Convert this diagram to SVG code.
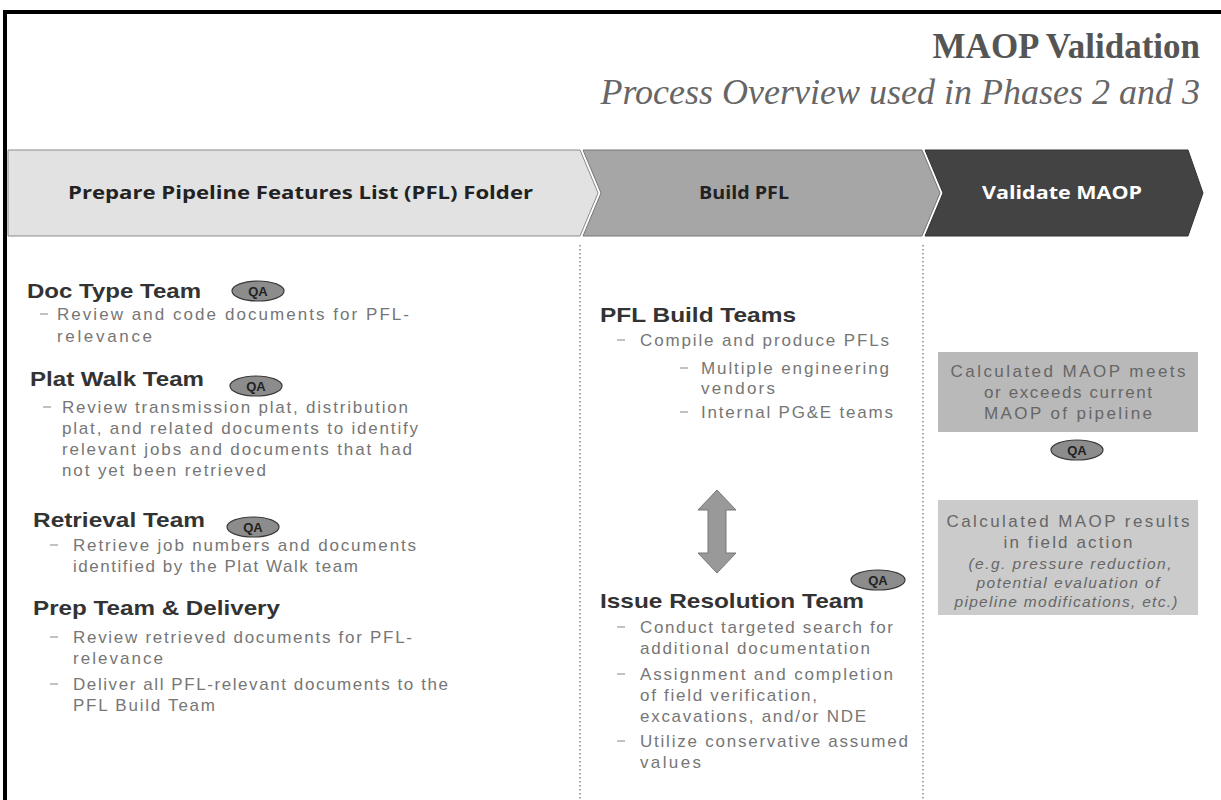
<svg xmlns="http://www.w3.org/2000/svg" width="1221" height="800" viewBox="0 0 1221 800">
<style>
.title{font-family:"Liberation Serif",serif;font-weight:bold;font-size:35px;fill:#555}
.sub{font-family:"Liberation Serif",serif;font-style:italic;font-size:36px;fill:#666}
.chev{font-family:"Open Sans","Liberation Sans",sans-serif;font-weight:bold;font-size:18px}
.h{font-family:"Liberation Sans",Arial,sans-serif;font-weight:bold;font-size:20.5px;fill:#333}
.b{font-family:"Liberation Sans",Arial,sans-serif;font-size:17px;fill:#767676}
.bx{font-family:"Liberation Sans",Arial,sans-serif;font-size:17px;fill:#666}
.bi{font-family:"Liberation Sans",Arial,sans-serif;font-style:italic;font-size:15.5px;fill:#666}
.dash{stroke:#999;stroke-width:1.2}
.qa ellipse{fill:#8c8c8c;stroke:#3a3a3a;stroke-width:1.2}
.qa text{font-family:"Liberation Sans",Arial,sans-serif;font-size:13px;font-weight:bold;fill:#222;text-anchor:middle}
.vsep{stroke:#777;stroke-width:1.3;stroke-dasharray:1.5 2.5}
</style>
<rect x="0" y="0" width="1221" height="800" fill="#fff"/>
<path d="M5 830 V12 H1240" fill="none" stroke="#000" stroke-width="4"/>

<g id="title">
<text class="title" x="1200" y="58" text-anchor="end">MAOP Validation</text>
<text class="sub" x="1200" y="104" text-anchor="end">Process Overview used in Phases 2 and 3</text>
</g>

<g id="phase1">
<polygon points="8,150 580,150 598,193 580,236 8,236" fill="#e2e2e2" stroke="#8a8a8a" stroke-width="1"/>
<text class="chev" x="68" y="199" fill="#222" textLength="465" lengthAdjust="spacingAndGlyphs">Prepare Pipeline  Features List (PFL) Folder</text>
</g>
<g id="phase2">
<polygon points="583,150 922,150 940,193 922,236 583,236 601,193" fill="#a6a6a6" stroke="#777" stroke-width="1"/>
<text class="chev" x="744" y="199" fill="#222" text-anchor="middle" textLength="90" lengthAdjust="spacingAndGlyphs">Build PFL</text>
</g>
<g id="phase3">
<polygon points="925,150 1188,150 1203,193 1188,236 925,236 943,193" fill="#434343" stroke="#333" stroke-width="1"/>
<text class="chev" x="1062" y="199" fill="#fff" text-anchor="middle" textLength="160" lengthAdjust="spacingAndGlyphs">Validate MAOP</text>
</g>

<g id="separators">
<line class="vsep" x1="580" y1="245" x2="580" y2="800"/>
<line class="vsep" x1="923" y1="245" x2="923" y2="800"/>
</g>

<g id="doc-type-team">
<text class="h" x="27" y="298" textLength="174" lengthAdjust="spacingAndGlyphs">Doc Type Team</text>
<g class="qa"><ellipse cx="258" cy="291" rx="26" ry="10"/><text x="258" y="296">QA</text></g>
<line class="dash" x1="40" y1="314" x2="48" y2="314"/>
<text class="b" x="57" y="320" textLength="352" lengthAdjust="spacing">Review and code documents for PFL-</text>
<text class="b" x="57" y="342" textLength="95" lengthAdjust="spacing">relevance</text>
</g>

<g id="plat-walk-team">
<text class="h" x="30" y="386" textLength="174" lengthAdjust="spacingAndGlyphs">Plat Walk Team</text>
<g class="qa"><ellipse cx="256" cy="386" rx="26" ry="10"/><text x="256" y="391">QA</text></g>
<line class="dash" x1="43" y1="407" x2="51" y2="407"/>
<text class="b" x="62" y="413" textLength="346" lengthAdjust="spacing">Review transmission plat, distribution</text>
<text class="b" x="62" y="434" textLength="356" lengthAdjust="spacing">plat, and related documents to identify</text>
<text class="b" x="62" y="455" textLength="350" lengthAdjust="spacing">relevant jobs and documents that had</text>
<text class="b" x="62" y="476" textLength="204" lengthAdjust="spacing">not yet been  retrieved</text>
</g>

<g id="retrieval-team">
<text class="h" x="33" y="527" textLength="172" lengthAdjust="spacingAndGlyphs">Retrieval Team</text>
<g class="qa"><ellipse cx="253" cy="527" rx="26" ry="10"/><text x="253" y="532">QA</text></g>
<line class="dash" x1="50" y1="545" x2="58" y2="545"/>
<text class="b" x="73" y="551" textLength="343" lengthAdjust="spacing">Retrieve job numbers and documents</text>
<text class="b" x="73" y="572" textLength="285" lengthAdjust="spacing">identified by the Plat Walk team</text>
</g>

<g id="prep-team">
<text class="h" x="33" y="615" textLength="247" lengthAdjust="spacingAndGlyphs">Prep Team &amp; Delivery</text>
<line class="dash" x1="50" y1="637" x2="58" y2="637"/>
<text class="b" x="73" y="643" textLength="339" lengthAdjust="spacing">Review retrieved documents for PFL-</text>
<text class="b" x="73" y="664" textLength="90" lengthAdjust="spacing">relevance</text>
<line class="dash" x1="50" y1="684" x2="58" y2="684"/>
<text class="b" x="73" y="690" textLength="375" lengthAdjust="spacing">Deliver all PFL-relevant documents to the</text>
<text class="b" x="73" y="711" textLength="142" lengthAdjust="spacing">PFL Build Team</text>
</g>

<g id="pfl-build-teams">
<text class="h" x="600" y="322" textLength="196" lengthAdjust="spacingAndGlyphs">PFL Build Teams</text>
<line class="dash" x1="617" y1="340" x2="625" y2="340"/>
<text class="b" x="640" y="346" textLength="249" lengthAdjust="spacing">Compile and produce PFLs</text>
<line class="dash" x1="680" y1="368" x2="688" y2="368"/>
<text class="b" x="701" y="374" textLength="188" lengthAdjust="spacing">Multiple engineering</text>
<text class="b" x="701" y="394" textLength="74" lengthAdjust="spacing">vendors</text>
<line class="dash" x1="680" y1="412" x2="688" y2="412"/>
<text class="b" x="701" y="418" textLength="192" lengthAdjust="spacing">Internal PG&amp;E teams</text>
</g>

<g id="connectors">
<polygon points="717,490 736,510 726,510 726,553 736,553 717,573 698,553 708,553 708,510 698,510" fill="#999" stroke="#777" stroke-width="1"/>
</g>

<g id="issue-resolution-team">
<g class="qa"><ellipse cx="878" cy="580" rx="27" ry="10"/><text x="878" y="585">QA</text></g>
<text class="h" x="600" y="608" textLength="264" lengthAdjust="spacingAndGlyphs">Issue Resolution Team</text>
<line class="dash" x1="617" y1="627" x2="625" y2="627"/>
<text class="b" x="640" y="633" textLength="253" lengthAdjust="spacing">Conduct targeted search  for</text>
<text class="b" x="640" y="654" textLength="230" lengthAdjust="spacing">additional documentation</text>
<line class="dash" x1="617" y1="674" x2="625" y2="674"/>
<text class="b" x="640" y="680" textLength="253" lengthAdjust="spacing">Assignment and completion</text>
<text class="b" x="640" y="701" textLength="177" lengthAdjust="spacing">of  field verification,</text>
<text class="b" x="640" y="722" textLength="226" lengthAdjust="spacing">excavations, and/or NDE</text>
<line class="dash" x1="617" y1="741" x2="625" y2="741"/>
<text class="b" x="640" y="747" textLength="268" lengthAdjust="spacing">Utilize conservative assumed</text>
<text class="b" x="640" y="768" textLength="61" lengthAdjust="spacing">values</text>
</g>

<g id="maop-meets">
<rect x="938" y="352" width="260" height="80" fill="#b9b9b9"/>
<text class="bx" x="1068" y="377" text-anchor="middle" textLength="235" lengthAdjust="spacing">Calculated  MAOP  meets</text>
<text class="bx" x="1068" y="398" text-anchor="middle" textLength="168" lengthAdjust="spacing">or exceeds  current</text>
<text class="bx" x="1068" y="419" text-anchor="middle" textLength="168" lengthAdjust="spacing">MAOP  of pipeline</text>
<g class="qa"><ellipse cx="1077" cy="450" rx="26" ry="10"/><text x="1077" y="455">QA</text></g>
</g>

<g id="maop-field-action">
<rect x="938" y="500" width="260" height="115" fill="#cbcbcb"/>
<text class="bx" x="1068" y="527" text-anchor="middle" textLength="243" lengthAdjust="spacing">Calculated MAOP results</text>
<text class="bx" x="1068" y="548" text-anchor="middle" textLength="129" lengthAdjust="spacing">in field  action</text>
<text class="bi" x="1070" y="569" text-anchor="middle" textLength="203" lengthAdjust="spacing">(e.g. pressure reduction,</text>
<text class="bi" x="1068" y="588" text-anchor="middle" textLength="183" lengthAdjust="spacing">potential evaluation of</text>
<text class="bi" x="1066" y="607" text-anchor="middle" textLength="223" lengthAdjust="spacing">pipeline modifications, etc.)</text>
</g>
</svg>
